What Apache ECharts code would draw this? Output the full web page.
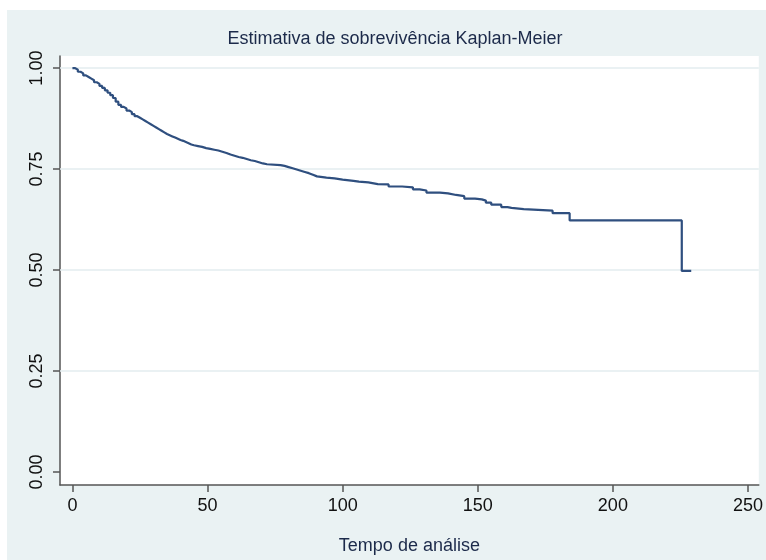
<!DOCTYPE html>
<html>
<head>
<meta charset="utf-8">
<script src="https://cdn.jsdelivr.net/npm/echarts@6/dist/echarts.min.js"></script>
<style>
  html, body { margin: 0; padding: 0; background: #ffffff; }
  #bg { position: absolute; left: 7px; top: 10px; width: 759px; height: 550px; background: #eaf2f3; }
  #main { position: absolute; left: 0; top: 0; width: 766px; height: 560px; }
</style>
</head>
<body>
<div id="bg"></div>
<div id="main"></div>
<script>
// Analysis time (x) and Kaplan-Meier survival estimate (y)
var times = [0, 1, 2, 3, 4, 5, 6, 7, 8, 9, 10, 11, 12, 13, 14, 15, 16, 17, 18, 19,
  20, 21, 22, 23, 24, 25, 26, 27, 28, 29, 30, 31, 32, 33, 34, 35, 36, 37, 38, 39,
  40, 41, 42, 43, 44, 45, 46.5, 48, 49.5, 51, 52.5, 54, 55.5, 57, 58.5, 60, 61.5, 63, 64.5, 66,
  67.5, 69, 70.5, 72, 77, 78.5, 80, 81.5, 83, 84.5, 86, 87.5, 89, 90.5, 94, 97, 100, 104, 106, 109.5,
  113, 117, 122, 126, 128.5, 131, 136, 139, 142, 145, 149, 151.5, 153, 155, 158.7, 161, 162.5, 167, 177.7, 184,
  225.5, 229];
var survival = [1.000, 0.996, 0.991, 0.987, 0.982, 0.978, 0.974, 0.970, 0.965, 0.961, 0.956, 0.951, 0.945, 0.939, 0.933, 0.926, 0.917, 0.909, 0.904, 0.900,
  0.895, 0.891, 0.886, 0.881, 0.877, 0.873, 0.869, 0.865, 0.861, 0.857, 0.853, 0.849, 0.845, 0.841, 0.837, 0.834, 0.831, 0.828, 0.825, 0.822,
  0.820, 0.817, 0.814, 0.811, 0.809, 0.807, 0.805, 0.802, 0.800, 0.798, 0.796, 0.793, 0.790, 0.786, 0.783, 0.780, 0.778, 0.775, 0.772, 0.770,
  0.767, 0.764, 0.762, 0.760, 0.758, 0.755, 0.752, 0.749, 0.746, 0.743, 0.740, 0.736, 0.732, 0.729, 0.727, 0.724, 0.721, 0.719, 0.717, 0.713,
  0.712, 0.707, 0.705, 0.700, 0.697, 0.692, 0.690, 0.686, 0.683, 0.677, 0.675, 0.672, 0.667, 0.662, 0.656, 0.654, 0.651, 0.647, 0.641, 0.623,
  0.498, 0.498];
var xTicks = [0, 50, 100, 150, 200, 250];
var yTicks = [0, 0.25, 0.5, 0.75, 1];
var yGrid = [0.25, 0.5, 0.75, 1];

var seriesData = times.map(function (t, i) { return [t, survival[i]]; });

var FONT = '"Liberation Sans", Arial, sans-serif';
var chart = echarts.init(document.getElementById('main'), null, { renderer: 'canvas' });
chart.setOption({
  backgroundColor: 'transparent',
  animation: false,
  title: {
    text: 'Estimativa de sobrevivência Kaplan-Meier',
    left: 390,
    top: 25,
    textAlign: 'center',
    textStyle: { fontFamily: FONT, fontSize: 18, fontWeight: 'normal', color: '#1c2a4a' }
  },
  grid: {
    left: 60, top: 56, width: 701, height: 435,
    show: true, backgroundColor: '#ffffff', borderWidth: 0
  },
  xAxis: {
    type: 'value',
    min: -4.6, max: 254,
    name: 'Tempo de análise',
    nameLocation: 'middle',
    nameGap: 52,
    nameTextStyle: { fontFamily: FONT, fontSize: 18, color: '#1c2a4a' },
    axisLine: { show: true, onZero: false, lineStyle: { color: '#555555', width: 1.5 } },
    axisTick: { show: true, customValues: xTicks, length: 7, lineStyle: { color: '#555555', width: 1.5 } },
    axisLabel: { customValues: xTicks, fontFamily: FONT, fontSize: 18, color: '#111111', margin: 12 },
    splitLine: { show: false }
  },
  yAxis: {
    type: 'value',
    min: -0.032, max: 1.03,
    axisLine: { show: true, onZero: false, lineStyle: { color: '#555555', width: 1.5 } },
    axisTick: { show: true, customValues: yTicks, length: 7, lineStyle: { color: '#555555', width: 1.5 } },
    axisLabel: {
      customValues: yTicks, rotate: 90, fontFamily: FONT, fontSize: 18, color: '#111111', margin: 14,
      formatter: function (v) { return v.toFixed(2); }
    },
    splitLine: { show: false }
  },
  series: [{
    type: 'line',
    step: 'end',
    data: seriesData,
    showSymbol: false,
    symbol: 'none',
    lineStyle: { color: '#2f4f7f', width: 2.2 },
    z: 5,
    markLine: {
      silent: true,
      symbol: 'none',
      label: { show: false },
      lineStyle: { color: '#e3edef', width: 1.5, type: 'solid' },
      data: yGrid.map(function (v) { return { yAxis: v }; }),
      z: 1
    }
  }]
});
</script>
</body>
</html>
